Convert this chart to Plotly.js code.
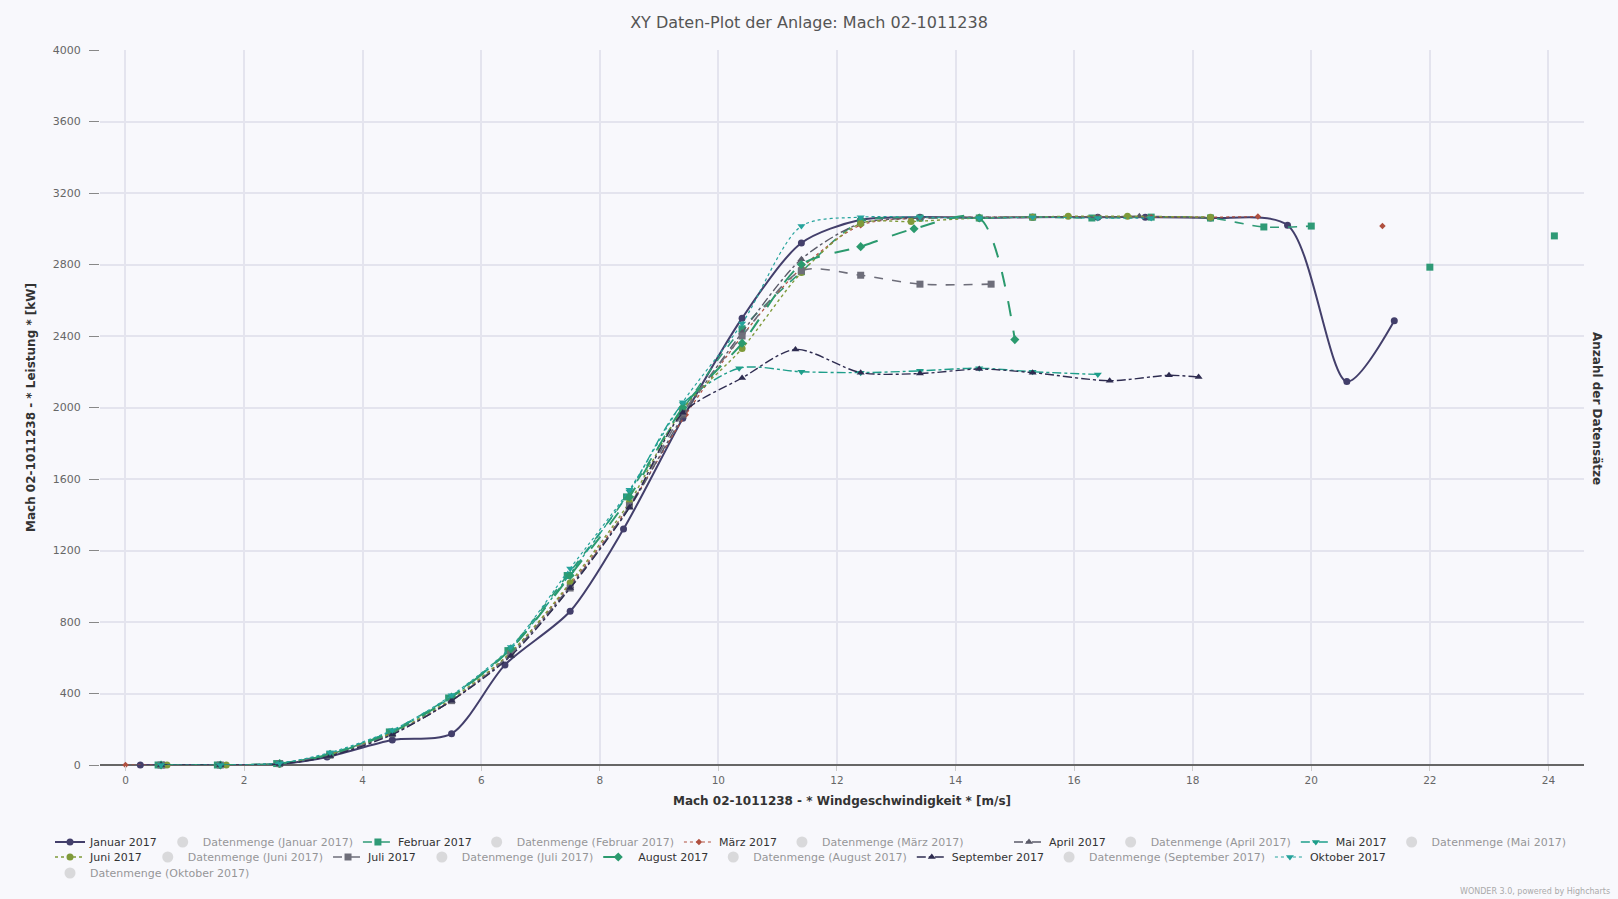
<!DOCTYPE html>
<html>
<head>
<meta charset="utf-8">
<script src="https://cdn.plot.ly/plotly-3.0.1.min.js"></script>
<style>
html,body{margin:0;padding:0;background:#f8f8fc;}
#chart{width:1618px;height:899px;}
</style>
</head>
<body>
<div id="chart"></div>
<script>
// ---- data ----
const janX = [0.25, 0.65, 1.6, 2.6, 3.4, 4.5, 5.5, 6.4, 7.5, 8.4, 9.4, 10.4, 11.4, 12.4, 13.4, 14.4, 15.3, 16.4, 17.2, 18.3, 19.6, 20.6, 21.4];
const janY = [0, 0, 0, 5, 45, 140, 175, 560, 860, 1320, 1940, 2500, 2920, 3050, 3065, 3060, 3065, 3065, 3065, 3060, 3020, 2145, 2485];

const febX = [0.55, 1.55, 2.55, 3.45, 4.45, 5.45, 6.45, 7.45, 8.45, 9.4, 10.4, 11.4, 12.4, 13.4, 14.4, 15.3, 16.3, 17.3, 18.3, 19.2, 20.0, null, 22.0, null, 24.1];
const febY = [0, 0, 8, 60, 185, 375, 640, 1060, 1500, 1990, 2440, 2760, 3040, 3060, 3060, 3065, 3060, 3065, 3060, 3010, 3015, null, 2785, null, 2960];

const marX = [0.0, 0.6, 1.6, 2.6, 3.45, 4.5, 5.5, 6.5, 7.5, 8.5, 9.45, 10.4, 11.4, 12.4, 13.4, 14.4, 15.3, 16.4, 17.3, 18.3, 19.1, null, 21.2];
const marY = [0, 0, 0, 8, 60, 180, 360, 630, 1010, 1450, 1960, 2400, 2780, 3020, 3060, 3065, 3065, 3065, 3065, 3065, 3068, null, 3015];

const aprX = [0.6, 1.6, 2.6, 3.45, 4.5, 5.5, 6.5, 7.5, 8.5, 9.4, 10.4, 11.4, 12.4, 13.4, 14.4, 15.3, 16.4, 17.1, 18.3];
const aprY = [0, 0, 8, 55, 175, 360, 620, 1000, 1440, 1950, 2420, 2830, 3030, 3060, 3065, 3065, 3065, 3070, 3060];

const maiX = [0.6, 1.6, 2.6, 3.45, 4.5, 5.5, 6.5, 7.5, 8.5, 9.4, 10.35, 11.4, 12.4, 13.4, 14.4, 15.3, 16.4];
const maiY = [0, 0, 10, 65, 190, 380, 650, 1070, 1530, 2020, 2220, 2200, 2195, 2205, 2220, 2200, 2185];

const junX = [0.7, 1.7, 2.6, 3.45, 4.5, 5.5, 6.5, 7.5, 8.5, 9.4, 10.4, 11.4, 12.4, 13.25, 14.4, 15.3, 15.9, 16.9, 18.3];
const junY = [0, 0, 5, 60, 180, 370, 630, 1020, 1470, 1990, 2330, 2755, 3030, 3040, 3060, 3065, 3070, 3070, 3065];

const julX = [0.6, 1.6, 2.6, 3.45, 4.5, 5.5, 6.5, 7.5, 8.5, 9.4, 10.4, 11.4, 12.4, 13.4, 14.6];
const julY = [0, 0, 8, 55, 175, 360, 620, 990, 1450, 1970, 2400, 2765, 2740, 2690, 2690];

const augX = [0.6, 1.6, 2.6, 3.45, 4.5, 5.5, 6.5, 7.5, 8.5, 9.4, 10.4, 11.4, 12.4, 13.3, 14.4, 15.0];
const augY = [0, 0, 8, 60, 185, 380, 650, 1060, 1500, 2000, 2360, 2800, 2900, 3000, 3060, 2380];

const sepX = [0.6, 1.6, 2.6, 3.45, 4.5, 5.5, 6.5, 7.5, 8.5, 9.4, 10.4, 11.3, 12.4, 13.4, 14.4, 15.3, 16.6, 17.6, 18.1];
const sepY = [0, 0, 5, 50, 170, 360, 610, 990, 1440, 1970, 2165, 2325, 2195, 2190, 2215, 2195, 2150, 2180, 2170];

const oktX = [0.6, 1.6, 2.6, 3.45, 4.5, 5.5, 6.5, 7.5, 8.5, 9.4, 10.4, 11.4, 12.4, 13.4, 14.4, 15.3, 16.4, 17.3];
const oktY = [0, 0, 10, 70, 195, 390, 660, 1100, 1540, 2030, 2470, 3015, 3065, 3065, 3060, 3065, 3060, 3060];

const months = ["Januar 2017", "Februar 2017", "März 2017", "April 2017", "Mai 2017", "Juni 2017", "Juli 2017", "August 2017", "September 2017", "Oktober 2017"];
const seriesX = [janX, febX, marX, aprX, maiX, junX, julX, augX, sepX, oktX];
const seriesY = [janY, febY, marY, aprY, maiY, junY, julY, augY, sepY, oktY];

// ---- styles ----
const colors  = ["#433f6b", "#2f9a76", "#b0503f", "#5a5a68", "#1e9e8a", "#7f9a3a", "#6e6e7a", "#2b9a6e", "#2e2c50", "#25a39c"];
const dashes  = ["solid", "dash", "dot", "dashdot", "dashdot", "dot", "dash", "longdash", "dashdot", "dot"];
const symbols = ["circle", "square", "diamond", "triangle-up", "triangle-down", "circle", "square", "diamond", "triangle-up", "triangle-down"];
const msizes  = [7, 7, 5, 7, 7, 7, 7, 7, 7, 7];
const lwidths = [2, 1.6, 1.2, 1.4, 1.4, 1.4, 1.6, 2, 1.4, 1.2];

// legend rows like the reference
function legendFor(traceIdx) {
  if (traceIdx < 6) return "legend";
  if (traceIdx < 10) return "legend4";
  if (traceIdx < 19) return "legend2";
  return "legend3";
}

const traces = [];
months.forEach((m, i) => {
  traces.push({
    type: "scatter", mode: "lines+markers", name: m,
    x: seriesX[i], y: seriesY[i], connectgaps: false,
    line: {color: colors[i], dash: dashes[i], width: lwidths[i], shape: "spline", smoothing: 0.8},
    marker: {color: colors[i], symbol: symbols[i], size: msizes[i]},
    cliponaxis: false, legend: legendFor(traces.length)
  });
  traces.push({
    type: "scatter", mode: "markers", name: "Datenmenge (" + m + ")",
    x: [null], y: [null], yaxis: "y2", visible: "legendonly",
    marker: {color: "#bbbbbb", symbol: "circle", size: 11}, legend: legendFor(traces.length)
  });
});

const legFont = {family: "DejaVu Sans, sans-serif", size: 11, color: "#333"};
function legRow(xPx, yPx) {
  return {orientation: "h", xref: "container", yref: "container", x: xPx/1618, y: 1 - yPx/899,
          xanchor: "left", yanchor: "middle", bgcolor: "rgba(0,0,0,0)", font: legFont,
          itemwidth: 30, traceorder: "normal"};
}

const layout = {
  width: 1618, height: 899,
  paper_bgcolor: "#f8f8fc", plot_bgcolor: "#f8f8fc",
  font: {family: "DejaVu Sans, sans-serif", color: "#555"},
  margin: {l: 100, r: 34, t: 50, b: 134},
  title: {text: "XY Daten-Plot der Anlage: Mach 02-1011238", x: 0.5, xanchor: "center", y: 1 - 22/899, yanchor: "middle", yref: "container",
          font: {family: "DejaVu Sans, sans-serif", size: 16, color: "#555"}},
  xaxis: {
    range: [-0.43, 24.6], dtick: 2, tick0: 0,
    showgrid: true, gridcolor: "#e4e4ee", gridwidth: 1.5,
    zeroline: false, showline: false,
    ticks: "outside", ticklen: 5, tickcolor: "#ccc",
    tickfont: {size: 10.5, color: "#666"},
    title: {text: "Mach 02-1011238 - * Windgeschwindigkeit * [m/s]", standoff: 12,
            font: {family: "DejaVu Sans, sans-serif", size: 12, color: "#333", weight: "bold"}}
  },
  yaxis: {
    range: [0, 4000], dtick: 400, tick0: 0,
    showgrid: true, gridcolor: "#e4e4ee", gridwidth: 1.5,
    zeroline: true, zerolinecolor: "#666", zerolinewidth: 1.5,
    showline: false,
    ticks: "outside", ticklen: 10, tickcolor: "#888", ticklabelstandoff: 6,
    tickfont: {size: 11, color: "#666"},
    title: {text: "Mach 02-1011238 - * Leistung * [kW]", standoff: 14,
            font: {family: "DejaVu Sans, sans-serif", size: 12, color: "#333", weight: "bold"}}
  },
  yaxis2: {overlaying: "y", side: "right", showgrid: false, zeroline: false, showticklabels: false, range: [0, 1]},
  showlegend: true,
  legend: legRow(50, 842),
  legend4: legRow(1009, 842),
  legend2: legRow(50, 857),
  legend3: legRow(50, 873),
  annotations: [
    {text: "Anzahl der Datensätze", textangle: 90, xref: "paper", yref: "paper", x: (1597 - 100) / 1484, y: (765 - 408) / 715,
     xanchor: "center", yanchor: "middle", showarrow: false,
     font: {family: "DejaVu Sans, sans-serif", size: 12, color: "#333", weight: "bold"}},
    {text: "WONDER 3.0, powered by Highcharts", xref: "paper", yref: "paper", x: (1612 - 100) / 1484, y: (765 - 891) / 715,
     xanchor: "right", yanchor: "middle", showarrow: false,
     font: {family: "DejaVu Sans, sans-serif", size: 8, color: "#aaa"}}
  ]
};

Plotly.newPlot("chart", traces, layout, {displayModeBar: false, responsive: false});
</script>
</body>
</html>
